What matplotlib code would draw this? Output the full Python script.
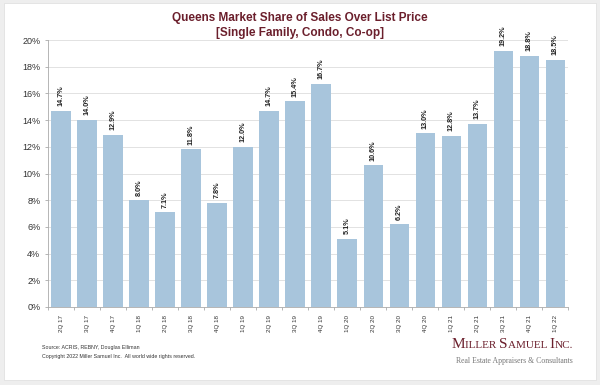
import matplotlib.pyplot as plt
import numpy as np

quarters = ['2Q 17', '3Q 17', '4Q 17', '1Q 18', '2Q 18', '3Q 18', '4Q 18', '1Q 19',
            '2Q 19', '3Q 19', '4Q 19', '1Q 20', '2Q 20', '3Q 20', '4Q 20', '1Q 21',
            '2Q 21', '3Q 21', '4Q 21', '1Q 22']
share = [14.7, 14.0, 12.9, 8.0, 7.1, 11.8, 7.8, 12.0, 14.7, 15.4,
         16.7, 5.1, 10.6, 6.2, 13.0, 12.8, 13.7, 19.2, 18.8, 18.5]
y_ticks = [0, 2, 4, 6, 8, 10, 12, 14, 16, 18, 20]

bar_color = '#a8c5dc'
title_color = '#6b1f2c'
sans = ['Liberation Sans', 'DejaVu Sans']
serif = ['Liberation Serif', 'DejaVu Serif']

fig = plt.figure(figsize=(6, 3.85), dpi=100)
fig.patch.set_facecolor('#eeeeee')

# white card behind the chart
card = plt.Rectangle((0.006, 0.013), 0.987, 0.978, transform=fig.transFigure,
                     facecolor='white', edgecolor='#dddddd', linewidth=0.5, zorder=-10)
fig.patches.append(card)

ax = fig.add_axes([0.08, 0.2026, 0.867, 0.6935])
ax.set_facecolor('none')

x = np.arange(len(quarters))
ax.bar(x, share, width=0.74, color=bar_color, zorder=2)

for xi, v in zip(x, share):
    ax.text(xi, v + 0.35, '{:.1f}%'.format(v), rotation=90, ha='center', va='bottom',
            fontsize=5.2, fontweight='bold', color='#222222', family=sans)

ax.set_xlim(-0.5, len(quarters) - 0.5)
ax.set_ylim(0, 20)
ax.set_yticks(y_ticks)
ax.set_yticklabels(['{}%'.format(t) for t in y_ticks], fontsize=6.5,
                   family=sans, color='#333333')
ax.set_xticks(x)
ax.set_xticklabels(quarters, rotation=90, fontsize=4.5, family=sans, color='#333333')
ax.set_xticks(np.arange(-0.5, len(quarters)), minor=True)
ax.tick_params(axis='x', which='major', length=0, pad=6)
ax.tick_params(axis='x', which='minor', length=2.5, color='#999999', width=0.5)
ax.tick_params(axis='y', length=2.5, color='#999999', width=0.5, pad=3)

ax.grid(axis='y', color='#dddddd', linewidth=0.6, zorder=0)
for side in ['top', 'right']:
    ax.spines[side].set_visible(False)
for side in ['left', 'bottom']:
    ax.spines[side].set_color('#aaaaaa')
    ax.spines[side].set_linewidth(0.6)

fig.text(0.5, 0.953, 'Queens Market Share of Sales Over List Price', ha='center', va='center',
         fontsize=8.5, fontweight='bold', color=title_color, family=sans)
fig.text(0.5, 0.913, '[Single Family, Condo, Co-op]', ha='center', va='center',
         fontsize=8.5, fontweight='bold', color=title_color, family=sans)

fig.text(0.07, 0.098, 'Source: ACRIS, REBNY, Douglas Elliman', ha='left', va='center',
         fontsize=3.8, color='#333333', family=sans)
fig.text(0.07, 0.073, 'Copyright 2022 Miller Samuel Inc.  All world wide rights reserved.', ha='left',
         va='center', fontsize=3.8, color='#333333', family=sans)

# logo in small caps, built from pieces right to left
pieces = [('M', 11), ('ILLER ', 8), ('S', 11), ('AMUEL ', 8), ('I', 11), ('NC.', 8)]
renderer = fig.canvas.get_renderer()
x_right = 0.955 * 600
for txt, size in reversed(pieces):
    t = fig.text(x_right / 600, 0.095, txt, ha='right', va='baseline', fontsize=size,
                 color=title_color, family=serif)
    x_right -= t.get_window_extent(renderer).width
fig.text(0.955, 0.063, 'Real Estate Appraisers & Consultants', ha='right', va='center',
         fontsize=5.6, color='#777777', family=serif)

fig.savefig('out.png', dpi=100, facecolor=fig.get_facecolor())
